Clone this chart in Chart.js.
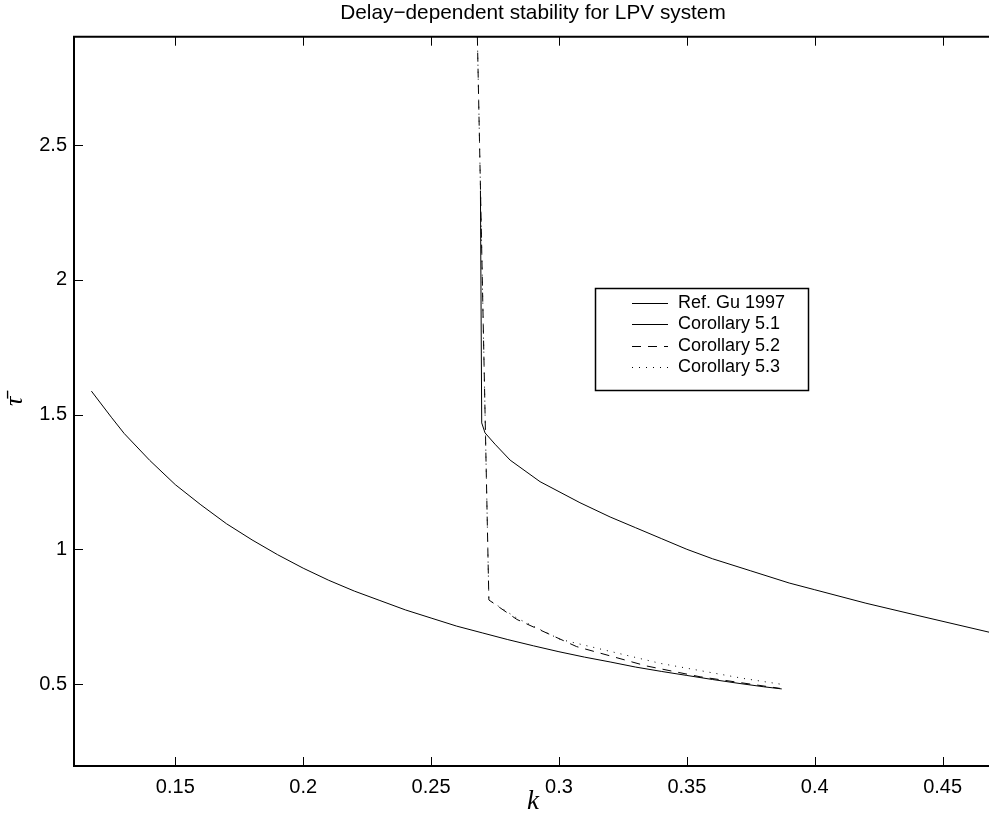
<!DOCTYPE html>
<html><head><meta charset="utf-8">
<script src="https://cdn.jsdelivr.net/npm/chart.js@4.4.0/dist/chart.umd.min.js"></script>
<style>html,body{margin:0;padding:0;background:#fff;overflow:hidden;width:989px;height:818px}canvas{display:block}</style>
</head><body>
<canvas id="c" width="1066" height="818"></canvas>
<script>
const titleText = 'Delay\u2212dependent stability for LPV system';
const xTitle = 'k';
const yTitle = '\u03C4\u0304';
const xTicks = [0.15, 0.2, 0.25, 0.3, 0.35, 0.4, 0.45];
const xTickLabels = ['0.15', '0.2', '0.25', '0.3', '0.35', '0.4', '0.45'];
const yTicks = [0.5, 1, 1.5, 2, 2.5];
const yTickLabels = ['0.5', '1', '1.5', '2', '2.5'];
const xMin = 0.1104, xMax = 0.4693, yMin = 0.196, yMax = 2.902;
const seriesLabels = ['Ref. Gu 1997', 'Corollary 5.1', 'Corollary 5.2', 'Corollary 5.3'];

// Ref. Gu 1997 (lower solid curve)
const kGu   = [0.1172, 0.125, 0.13, 0.14, 0.15, 0.16, 0.17, 0.18, 0.19, 0.2, 0.21, 0.22, 0.23, 0.24, 0.25, 0.26, 0.27, 0.28, 0.29, 0.30, 0.31, 0.32, 0.33, 0.34, 0.35, 0.36, 0.37, 0.38, 0.3871];
const tauGu = [1.587, 1.49, 1.43, 1.33, 1.24, 1.165, 1.095, 1.035, 0.98, 0.93, 0.885, 0.845, 0.81, 0.775, 0.745, 0.715, 0.69, 0.665, 0.642, 0.620, 0.600, 0.582, 0.563, 0.547, 0.532, 0.517, 0.503, 0.490, 0.482];
// Corollary 5.1 (upper solid curve)
const k51   = [0.2693, 0.2698, 0.2711, 0.275, 0.2809, 0.2926, 0.3082, 0.32, 0.33, 0.34, 0.35, 0.36, 0.375, 0.39, 0.40, 0.42, 0.44, 0.4693];
const tau51 = [2.33, 1.469, 1.432, 1.39, 1.331, 1.251, 1.173, 1.12, 1.08, 1.04, 1.00, 0.965, 0.92, 0.875, 0.85, 0.80, 0.755, 0.69];
// Corollary 5.2 (dashed)
const k52   = [0.2681, 0.2702, 0.2726, 0.2835, 0.3069, 0.3343, 0.3552, 0.3864];
const tau52 = [2.902, 1.925, 0.812, 0.740, 0.639, 0.567, 0.527, 0.484];
// Corollary 5.3 (dotted)
const k53   = [0.2681, 0.2702, 0.2726, 0.2835, 0.3004, 0.3395, 0.372, 0.3871];
const tau53 = [2.902, 1.925, 0.812, 0.745, 0.666, 0.577, 0.521, 0.499];

const FONT = "'Liberation Sans', Arial, Helvetica, sans-serif";
const SERIF = "'Liberation Serif', 'DejaVu Serif', serif";
const pts = (xs, ys) => xs.map((x, i) => ({x: x, y: ys[i]}));

const titleOverAxes = {
  id: 'titleOverAxes',
  afterDraw(chart) {
    const ctx = chart.ctx;
    ctx.save();
    ctx.font = '20.8px ' + FONT;
    ctx.fillStyle = '#000';
    ctx.textAlign = 'center';
    ctx.textBaseline = 'middle';
    ctx.fillText(titleText, 533, 13);
    ctx.restore();
  }
};

const inwardTicks = {
  id: 'inwardTicks',
  afterDraw(chart) {
    const ctx = chart.ctx, a = chart.chartArea;
    const xs = chart.scales.x, ys = chart.scales.y;
    const L = 9;
    ctx.save();
    ctx.strokeStyle = '#000';
    ctx.lineWidth = 1;
    ctx.beginPath();
    xTicks.forEach(v => {
      const px = Math.round(xs.getPixelForValue(v)) + 0.5;
      ctx.moveTo(px, a.bottom); ctx.lineTo(px, a.bottom - L);
      ctx.moveTo(px, a.top); ctx.lineTo(px, a.top + L);
    });
    yTicks.forEach(v => {
      const py = Math.round(ys.getPixelForValue(v)) + 0.5;
      ctx.moveTo(a.left, py); ctx.lineTo(a.left + L, py);
    });
    ctx.stroke();
    ctx.lineWidth = 2;
    ctx.beginPath();
    ctx.moveTo(a.left - 1, a.top); ctx.lineTo(a.right, a.top);
    ctx.stroke();
    ctx.restore();
  }
};

const boxLegend = {
  id: 'boxLegend',
  afterDraw(chart) {
    const ctx = chart.ctx;
    const bx = 595.5, by = 288.5, bw = 213, bh = 102;
    ctx.save();
    ctx.fillStyle = '#fff';
    ctx.fillRect(bx, by, bw, bh);
    ctx.strokeStyle = '#000';
    ctx.lineWidth = 1.5;
    ctx.strokeRect(bx, by, bw, bh);
    ctx.font = '18px ' + FONT;
    ctx.textBaseline = 'middle';
    ctx.textAlign = 'left';
    chart.data.datasets.forEach((ds, i) => {
      const y = 303 + i * 21.3;
      ctx.beginPath();
      ctx.setLineDash(ds.borderDash || []);
      ctx.lineWidth = 1;
      ctx.strokeStyle = '#000';
      ctx.moveTo(632, Math.round(y) + 0.5);
      ctx.lineTo(668, Math.round(y) + 0.5);
      ctx.stroke();
      ctx.setLineDash([]);
      ctx.fillStyle = '#000';
      ctx.fillText(ds.label, 678, y);
    });
    ctx.restore();
  }
};

const mkDs = (label, xs, ys, dash) => ({
  label: label,
  data: pts(xs, ys),
  showLine: true,
  borderColor: '#000',
  backgroundColor: '#000',
  borderWidth: 1,
  borderDash: dash,
  pointRadius: 0,
  tension: 0,
  fill: false
});

new Chart(document.getElementById('c'), {
  type: 'scatter',
  data: {
    datasets: [
      mkDs(seriesLabels[0], kGu, tauGu, []),
      mkDs(seriesLabels[1], k51, tau51, []),
      mkDs(seriesLabels[2], k52, tau52, [9, 7]),
      mkDs(seriesLabels[3], k53, tau53, [1, 6])
    ]
  },
  options: {
    responsive: false,
    animation: false,
    devicePixelRatio: 1,
    layout: {padding: {left: 0, right: 74, top: 36.7, bottom: 0}},
    plugins: {
      legend: {display: false},
      tooltip: {enabled: false},
      title: {display: false}
    },
    scales: {
      x: {
        type: 'linear',
        min: xMin, max: xMax,
        afterBuildTicks: s => { s.ticks = xTicks.map(v => ({value: v})); },
        afterFit: s => { s.height = 52; },
        ticks: {
          autoSkip: false, maxRotation: 0,
          color: '#000', padding: 9,
          font: {family: FONT, size: 20},
          callback: v => { const i = xTicks.findIndex(t => Math.abs(t - v) < 1e-9); return i >= 0 ? xTickLabels[i] : ''; }
        },
        grid: {display: false, drawTicks: false},
        border: {display: true, color: '#000', width: 2},
        title: {display: true, text: xTitle, color: '#000', padding: {top: 0, bottom: 0},
                font: {family: SERIF, size: 27, style: 'italic'}}
      },
      y: {
        type: 'linear',
        min: yMin, max: yMax,
        afterBuildTicks: s => { s.ticks = yTicks.map(v => ({value: v})); },
        afterFit: s => { s.width = 74; },
        ticks: {
          color: '#000', padding: 7,
          font: {family: FONT, size: 20},
          callback: v => { const i = yTicks.findIndex(t => Math.abs(t - v) < 1e-9); return i >= 0 ? yTickLabels[i] : ''; }
        },
        grid: {display: false, drawTicks: false},
        border: {display: true, color: '#000', width: 2},
        title: {display: true, text: yTitle, color: '#000', padding: {top: 0, bottom: 0},
                font: {family: SERIF, size: 26, style: 'italic'}}
      }
    }
  },
  plugins: [inwardTicks, boxLegend, titleOverAxes]
});
</script>
</body></html>
